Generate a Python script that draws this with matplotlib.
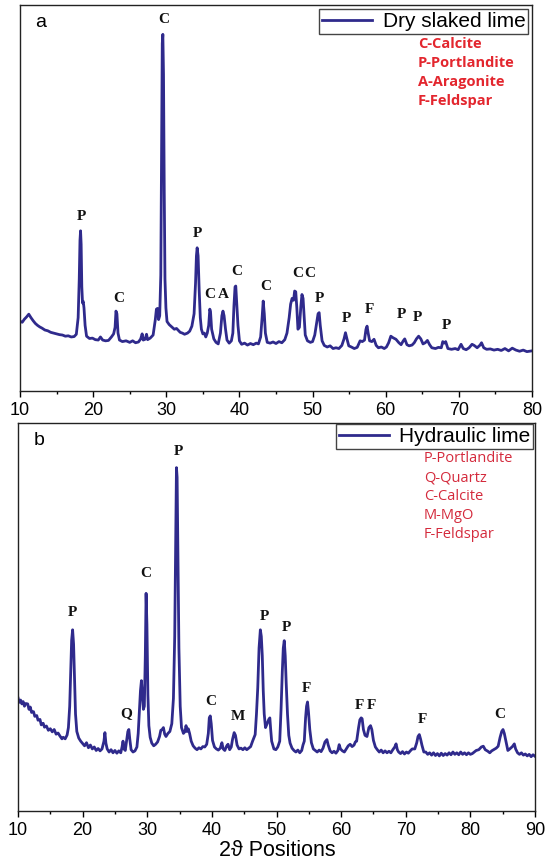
import matplotlib
matplotlib.use("Agg")
import matplotlib.pyplot as plt
from matplotlib.ticker import MultipleLocator

# ---- Panel a: Dry slaked lime (2-theta, relative intensity) ----
a_two_theta = [10.0, 10.3, 10.6, 10.9, 11.2, 11.5, 11.8, 12.1, 12.4, 12.7, 13.0, 13.4, 13.8, 14.2,
               14.6, 15.0, 15.4, 15.8, 16.2, 16.6, 17.0, 17.4, 17.7, 17.95, 18.1, 18.2, 18.28, 18.36,
               18.45, 18.55, 18.65, 18.75, 18.9, 19.1, 19.5, 19.9, 20.3, 20.7, 21.0, 21.3, 21.7, 22.1,
               22.5, 22.8, 23.0, 23.12, 23.25, 23.4, 23.6, 24.0, 24.5, 25.0, 25.4, 25.8, 26.2, 26.5,
               26.7, 26.85, 27.1, 27.3, 27.45, 27.8, 28.2, 28.5, 28.65, 28.8, 28.95, 29.1, 29.25, 29.35,
               29.45, 29.53, 29.62, 29.72, 29.82, 29.95, 30.1, 30.4, 30.8, 31.1, 31.4, 31.6, 31.9, 32.2,
               32.5, 32.9, 33.2, 33.5, 33.8, 34.0, 34.12, 34.22, 34.35, 34.5, 34.65, 34.8, 35.0, 35.2,
               35.4, 35.6, 35.8, 35.95, 36.05, 36.2, 36.5, 36.8, 37.1, 37.4, 37.6, 37.75, 37.9, 38.1,
               38.3, 38.6, 38.9, 39.1, 39.25, 39.4, 39.5, 39.65, 39.8, 40.0, 40.3, 40.7, 41.1, 41.5,
               41.9, 42.3, 42.6, 42.9, 43.1, 43.25, 43.4, 43.55, 43.8, 44.2, 44.6, 45.0, 45.4, 45.8,
               46.2, 46.5, 46.8, 47.0, 47.2, 47.4, 47.55, 47.7, 47.85, 48.0, 48.2, 48.4, 48.55, 48.7,
               48.85, 49.0, 49.3, 49.7, 50.0, 50.3, 50.55, 50.75, 50.9, 51.05, 51.3, 51.6, 52.0, 52.4,
               52.8, 53.2, 53.6, 54.0, 54.3, 54.5, 54.7, 54.95, 55.3, 55.7, 56.1, 56.5, 56.8, 57.1,
               57.3, 57.45, 57.6, 57.8, 58.1, 58.4, 58.7, 59.0, 59.4, 59.8, 60.1, 60.4, 60.7, 61.0,
               61.4, 61.8, 62.1, 62.4, 62.6, 62.9, 63.2, 63.6, 63.9, 64.2, 64.5, 64.8, 65.1, 65.4,
               65.7, 66.0, 66.3, 66.8, 67.2, 67.6, 67.8, 68.0, 68.2, 68.5, 69.0, 69.5, 69.9, 70.3,
               70.6, 71.0, 71.4, 71.8, 72.1, 72.5, 72.9, 73.1, 73.4, 73.8, 74.3, 74.8, 75.3, 75.8,
               76.3, 76.8, 77.3, 77.8, 78.3, 78.8, 79.3, 80.0]
a_intensity = [181, 178, 186, 192, 199, 190, 182, 175, 170, 166, 163, 158, 156, 152,
               150, 148, 146, 145, 142, 143, 140, 141, 147, 190, 290, 390, 415, 380,
               270, 228, 232, 215, 170, 142, 136, 137, 133, 132, 140, 132, 130, 131,
               140, 148, 165, 207, 200, 150, 132, 128, 130, 126, 130, 125, 127, 135,
               148, 132, 134, 147, 133, 137, 145, 185, 212, 214, 185, 195, 300, 600,
               900, 924, 820, 520, 290, 215, 180, 172, 165, 160, 162, 158, 152, 150,
               147, 150, 155, 168, 200, 280, 350, 371, 350, 260, 190, 160, 148, 150,
               140, 150, 170, 212, 205, 160, 135, 126, 122, 150, 195, 207, 195, 160,
               132, 124, 130, 150, 220, 270, 272, 220, 170, 130, 121, 124, 119, 123,
               120, 124, 122, 140, 190, 233, 200, 150, 126, 124, 127, 123, 128, 125,
               133, 150, 190, 225, 240, 235, 259, 257, 215, 160, 165, 220, 250, 240,
               190, 145, 130, 126, 128, 145, 175, 200, 203, 170, 130, 118, 114, 117,
               110, 112, 110, 118, 135, 151, 135, 117, 114, 110, 113, 130, 128, 132,
               160, 168, 150, 130, 128, 134, 118, 112, 114, 110, 114, 125, 142, 138,
               134, 125, 120, 130, 135, 120, 117, 119, 125, 135, 142, 135, 122, 125,
               131, 120, 112, 110, 113, 112, 128, 124, 128, 110, 108, 110, 107, 121,
               110, 107, 112, 121, 118, 112, 119, 125, 112, 108, 109, 106, 108, 105,
               110, 104, 111, 106, 103, 106, 102, 104]
a_labels = ["P", "C", "C", "P", "C", "A", "C", "C", "C", "C", "P", "P", "F", "P", "P", "P"]
a_label_x = [18.45, 23.5, 29.6, 34.2, 36.0, 37.8, 39.6, 43.6, 48.0, 49.6, 50.9, 54.6, 57.8, 62.1, 64.4, 68.3]
a_label_y = [436, 224, 946, 391, 233, 233, 294, 253, 287, 287, 223, 171, 194, 181, 174, 154]
a_legend = ["C-Calcite", "P-Portlandite", "A-Aragonite", "F-Feldspar"]

# ---- Panel b: Hydraulic lime ----
b_two_theta = [10.0, 10.2, 10.4, 10.6, 10.8, 11.0, 11.2, 11.5, 11.7, 11.9, 12.1, 12.4, 12.6, 12.9,
               13.1, 13.4, 13.6, 13.9, 14.1, 14.4, 14.7, 15.0, 15.3, 15.6, 15.9, 16.2, 16.5, 16.8,
               17.0, 17.3, 17.6, 17.8, 18.0, 18.15, 18.3, 18.45, 18.6, 18.75, 18.9, 19.1, 19.4, 19.7,
               20.0, 20.3, 20.6, 20.9, 21.2, 21.5, 21.8, 22.1, 22.4, 22.7, 23.0, 23.3, 23.45, 23.6,
               23.8, 24.1, 24.4, 24.7, 25.0, 25.3, 25.6, 25.9, 26.1, 26.25, 26.4, 26.6, 26.8, 27.0,
               27.15, 27.3, 27.5, 27.8, 28.1, 28.4, 28.6, 28.8, 28.95, 29.1, 29.25, 29.4, 29.55, 29.7,
               29.82, 29.95, 30.1, 30.25, 30.45, 30.7, 31.0, 31.3, 31.6, 31.9, 32.1, 32.3, 32.5, 32.7,
               32.9, 33.2, 33.5, 33.8, 34.05, 34.25, 34.4, 34.52, 34.62, 34.75, 34.9, 35.1, 35.3, 35.6,
               35.85, 36.0, 36.15, 36.35, 36.55, 36.8, 37.1, 37.4, 37.7, 38.0, 38.3, 38.6, 38.9, 39.2,
               39.45, 39.6, 39.75, 39.9, 40.1, 40.4, 40.7, 41.0, 41.3, 41.55, 41.75, 42.0, 42.3, 42.5,
               42.75, 43.0, 43.2, 43.45, 43.65, 43.9, 44.2, 44.5, 44.8, 45.1, 45.4, 45.7, 46.0, 46.3,
               46.7, 46.9, 47.1, 47.3, 47.5, 47.65, 47.8, 47.95, 48.1, 48.3, 48.55, 48.8, 48.97, 49.1,
               49.25, 49.6, 49.9, 50.2, 50.5, 50.7, 50.9, 51.05, 51.2, 51.35, 51.5, 51.7, 51.9, 52.1,
               52.4, 52.7, 53.0, 53.3, 53.6, 53.9, 54.1, 54.3, 54.5, 54.65, 54.8, 54.95, 55.15, 55.4,
               55.7, 56.0, 56.3, 56.6, 56.9, 57.2, 57.5, 57.8, 58.0, 58.3, 58.6, 58.9, 59.2, 59.5,
               59.7, 59.9, 60.2, 60.5, 60.8, 61.1, 61.4, 61.7, 62.0, 62.2, 62.4, 62.7, 62.9, 63.1,
               63.25, 63.45, 63.7, 64.0, 64.3, 64.55, 64.75, 65.0, 65.3, 65.6, 65.9, 66.2, 66.5, 66.8,
               67.1, 67.4, 67.7, 68.0, 68.3, 68.5, 68.7, 68.9, 69.2, 69.5, 69.8, 70.1, 70.4, 70.7,
               71.0, 71.4, 71.7, 71.9, 72.1, 72.3, 72.5, 72.8, 73.1, 73.4, 73.7, 74.0, 74.3, 74.6,
               74.9, 75.2, 75.5, 75.8, 76.1, 76.4, 76.7, 77.0, 77.3, 77.6, 77.9, 78.2, 78.5, 78.8,
               79.1, 79.4, 79.7, 80.0, 80.3, 80.6, 80.9, 81.3, 81.7, 82.0, 82.3, 82.7, 83.0, 83.3,
               83.6, 84.0, 84.3, 84.6, 84.85, 85.05, 85.25, 85.5, 85.8, 86.1, 86.5, 86.8, 87.0, 87.3,
               87.6, 87.9, 88.2, 88.5, 88.8, 89.1, 89.4, 89.7, 90.0]
b_intensity = [292, 280, 286, 276, 282, 270, 277, 276, 262, 268, 254, 256, 244, 246,
               234, 236, 222, 226, 216, 219, 208, 212, 204, 210, 198, 201, 193, 186,
               190, 186, 196, 215, 270, 360, 440, 467, 430, 340, 250, 205, 188, 180,
               174, 168, 176, 163, 170, 160, 165, 156, 161, 155, 160, 180, 202, 175,
               160, 152, 158, 150, 156, 149, 155, 150, 165, 180, 160, 156, 180, 205,
               210, 185, 158, 152, 155, 165, 200, 260, 310, 336, 300, 262, 270, 400,
               561, 480, 300, 220, 190, 175, 168, 172, 178, 192, 208, 210, 215, 198,
               192, 200, 205, 225, 290, 450, 700, 885, 860, 650, 420, 270, 215, 200,
               205, 220, 205, 212, 200, 180, 168, 162, 158, 163, 160, 166, 165, 172,
               200, 240, 245, 225, 182, 165, 160, 157, 162, 176, 160, 156, 168, 172,
               158, 165, 185, 202, 195, 170, 160, 162, 158, 163, 158, 162, 166, 180,
               197, 250, 318, 420, 467, 450, 400, 310, 250, 215, 225, 236, 240, 210,
               180, 160, 158, 165, 180, 260, 360, 420, 439, 400, 330, 250, 195, 175,
               162, 156, 152, 157, 150, 156, 170, 180, 240, 270, 281, 255, 210, 176,
               160, 156, 152, 157, 153, 162, 178, 184, 170, 155, 150, 154, 149, 156,
               171, 160, 155, 152, 160, 168, 172, 166, 170, 178, 180, 215, 235, 240,
               238, 210, 195, 192, 215, 220, 210, 182, 165, 158, 152, 157, 150, 155,
               150, 154, 150, 158, 165, 173, 158, 152, 148, 153, 147, 152, 149, 155,
               160, 160, 176, 192, 197, 185, 170, 152, 152, 146, 150, 144, 150, 143,
               148, 142, 149, 143, 148, 144, 150, 145, 152, 146, 150, 145, 152, 146,
               150, 145, 150, 146, 148, 152, 156, 158, 165, 167, 158, 154, 150, 155,
               158, 162, 167, 190, 205, 210, 200, 180, 156, 160, 166, 173, 160, 150,
               146, 150, 144, 147, 142, 146, 140, 145, 141]
b_labels = ["P", "Q", "C", "P", "C", "M", "P", "P", "F", "F", "F", "F", "C"]
b_label_x = [18.4, 26.8, 29.7, 34.8, 39.8, 44.0, 48.2, 51.5, 54.7, 62.9, 64.7, 72.5, 84.6]
b_label_y = [494, 234, 595, 909, 266, 227, 485, 457, 298, 255, 255, 219, 232]
b_legend = ["P-Portlandite", "Q-Quartz", "C-Calcite", "M-MgO", "F-Feldspar"]

LINE = "#2f2a8c"
SANS = ["Liberation Sans", "DejaVu Sans"]

fig = plt.figure(figsize=(5.48, 8.60), dpi=100)
ax1 = fig.add_axes([20 / 548, 1 - 391 / 860, 512 / 548, 386 / 860])
ax2 = fig.add_axes([18 / 548, 1 - 811 / 860, 517 / 548, 388 / 860])


def style(ax, xmax):
    ax.set_xlim(10, xmax)
    ax.set_ylim(0, 1000)
    ax.set_yticks([])
    ax.xaxis.set_major_locator(MultipleLocator(10))
    ax.xaxis.set_minor_locator(MultipleLocator(5))
    ax.tick_params(axis="x", which="major", direction="out", length=4, width=1,
                   labelsize=13, pad=4)
    ax.tick_params(axis="x", which="minor", direction="out", length=2.5, width=1)
    for lab in ax.get_xticklabels():
        lab.set_fontfamily(SANS)
    for s in ax.spines.values():
        s.set_linewidth(1.0)
        s.set_color("#222222")


def draw(ax, xs, ys, name, labels, lx, ly, legend_lines, xmax, panel, red, bold,
         leg_x, leg_top, red_x, red_y0, red_dy):
    ax.plot(xs, ys, color=LINE, lw=2.0, label=name, solid_joinstyle="round")
    style(ax, xmax)
    for t, x, y in zip(labels, lx, ly):
        ax.text(x, y, t, ha="center", va="bottom", fontsize=11, fontweight="bold",
                family="Liberation Serif", color="#111111")
    leg = ax.legend(loc="upper right", bbox_to_anchor=(leg_x, leg_top), borderaxespad=0,
                    fancybox=False, edgecolor="#444444", framealpha=1,
                    prop={"family": SANS, "size": 15}, handlelength=2.4,
                    borderpad=0.15, handletextpad=0.5)
    leg.get_frame().set_linewidth(1.0)
    for i, t in enumerate(legend_lines):
        ax.text(red_x, red_y0 - i * red_dy, t, transform=ax.transAxes, ha="left", va="center",
                fontsize=10.5, color=red, fontweight="bold" if bold else "normal",
                family=["Open Sans", "DejaVu Sans"])
    ax.text(0.03, 0.955, panel, transform=ax.transAxes, ha="left", va="center",
            fontsize=14, family=SANS)


draw(ax1, a_two_theta, a_intensity, "Dry slaked lime", a_labels, a_label_x, a_label_y,
     a_legend, 80, "a", "#e3262e", True, 0.993, 0.989, 0.777, 0.898, 0.0485)
draw(ax2, b_two_theta, b_intensity, "Hydraulic lime", b_labels, b_label_x, b_label_y,
     b_legend, 90, "b", "#d42a3c", False, 0.997, 0.997, 0.785, 0.908, 0.049)

fig.text(277 / 548, 1 - 851 / 860, "2ϑ Positions", ha="center", va="center",
         fontsize=15.5, family=SANS)

fig.savefig("out.png", dpi=100)
